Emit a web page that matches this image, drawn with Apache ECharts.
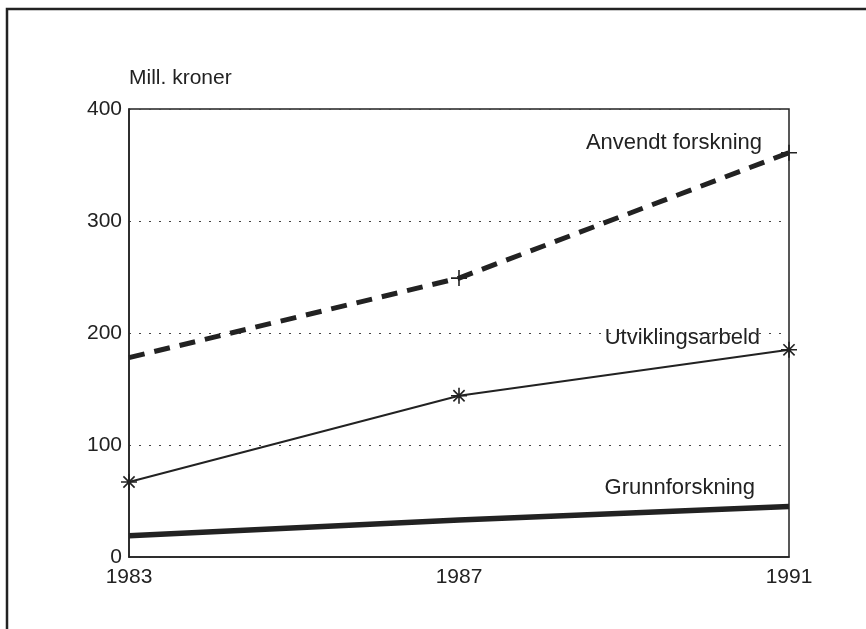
<!DOCTYPE html>
<html>
<head>
<meta charset="utf-8">
<script src="https://cdn.jsdelivr.net/npm/echarts@6/dist/echarts.min.js"></script>
<style>
  html, body { margin: 0; padding: 0; background: #fff; }
  #chart { width: 866px; height: 629px; }
</style>
</head>
<body>
<div id="chart"></div>
<script>
  // data (mill. kroner)
  var years = [1983, 1987, 1991];
  var anvendt = [178, 249, 361];
  var utvikling = [67, 144, 185];
  var grunn = [19, 33, 45];
  var yTicks = [0, 100, 200, 300, 400];

  var ink = '#222';
  var font = '"Liberation Sans", Arial, sans-serif';

  var plusPath = 'path://M0,-10L0,10M-10,0L10,0';
  var starPath = 'path://M0,-10L0,10M-10,0L10,0M-7,-7L7,7M-7,7L7,-7';

  function pairs(vals) {
    return vals.map(function (v, i) { return [years[i], v]; });
  }

  var chart = echarts.init(document.getElementById('chart'));

  var anvendtData = pairs(anvendt).map(function (p, i) {
    // no cross at the first year (sits on the axis)
    return i === 0 ? { value: p, symbol: 'none' } : p;
  });

  var labelStyle = function (txt) {
    return {
      text: txt, fill: ink, font: '22px ' + font,
      backgroundColor: '#fff', padding: [0, 3]
    };
  };

  var option = {
    animation: false,
    backgroundColor: '#fff',
    textStyle: { fontFamily: font, color: ink },
    grid: {
      left: 129, top: 109, right: 77, bottom: 72,
      show: true, borderColor: ink, borderWidth: 1.5, backgroundColor: 'transparent'
    },
    xAxis: {
      type: 'value',
      min: years[0], max: years[years.length - 1],
      interval: 4,
      axisLine: { show: true, lineStyle: { color: ink, width: 1.5 } },
      axisTick: { show: false },
      splitLine: { show: false },
      axisLabel: {
        color: ink, fontSize: 21, fontFamily: font, margin: 10,
        formatter: function (v) { return String(v); }
      }
    },
    yAxis: {
      type: 'value',
      min: yTicks[0], max: yTicks[yTicks.length - 1], interval: 100,
      axisLine: { show: true, lineStyle: { color: ink, width: 1.5 } },
      axisTick: { show: false },
      axisLabel: { color: ink, fontSize: 21, fontFamily: font, margin: 7 },
      splitLine: { show: true, lineStyle: { color: '#444', width: 1.2, type: [2, 8] } }
    },
    series: [
      {
        name: 'Anvendt forskning',
        type: 'line',
        data: anvendtData,
        symbol: plusPath,
        symbolSize: 16,
        itemStyle: { color: 'none', borderColor: ink, borderWidth: 1.6 },
        lineStyle: { color: ink, width: 5, type: [16, 10] }
      },
      {
        name: 'Utviklingsarbeld',
        type: 'line',
        data: pairs(utvikling),
        symbol: starPath,
        symbolSize: 16,
        itemStyle: { color: 'none', borderColor: ink, borderWidth: 1.6 },
        lineStyle: { color: ink, width: 2 }
      },
      {
        name: 'Grunnforskning',
        type: 'line',
        data: pairs(grunn),
        symbol: 'none',
        lineStyle: { color: ink, width: 5.5 }
      }
    ],
    graphic: [
      // outer frame (top and left edges, runs off the picture)
      {
        type: 'rect', silent: true,
        shape: { x: 7, y: 9, width: 900, height: 700 },
        style: { fill: 'none', stroke: ink, lineWidth: 2.5 }
      },
      {
        type: 'text', left: 129, top: 68,
        style: { text: 'Mill. kroner', fill: ink, font: '21px ' + font }
      },
      { type: 'text', right: 101, top: 132, style: labelStyle('Anvendt forskning') },
      { type: 'text', right: 103, top: 327, style: labelStyle('Utviklingsarbeld') },
      { type: 'text', right: 108, top: 477, style: labelStyle('Grunnforskning') }
    ]
  };

  chart.setOption(option);
</script>
</body>
</html>
